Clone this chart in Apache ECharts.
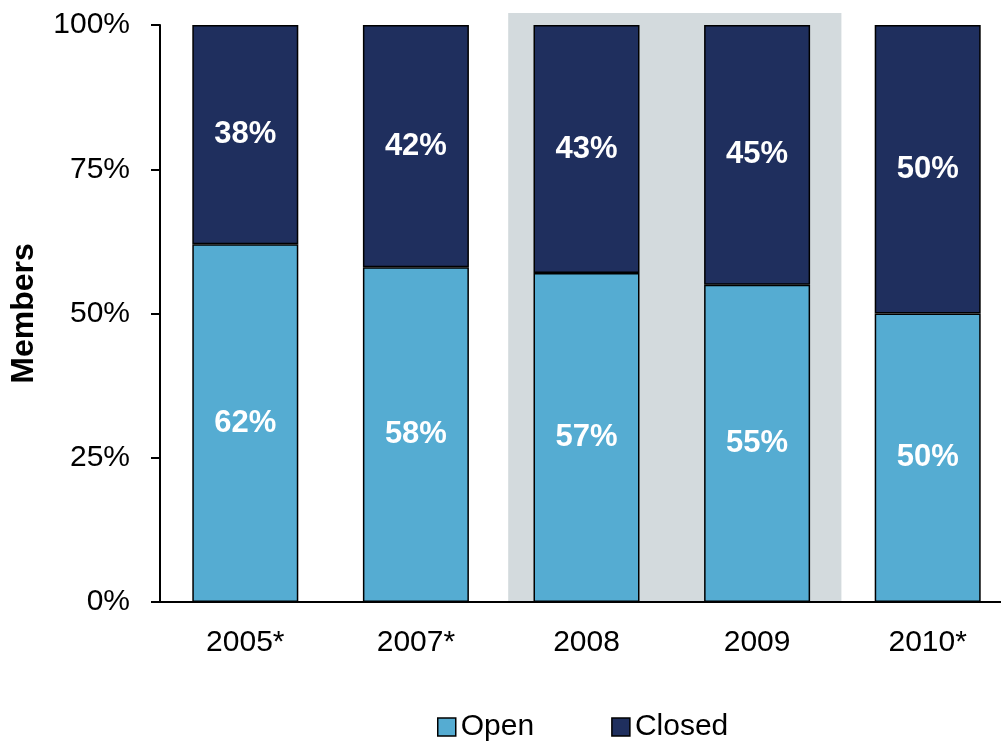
<!DOCTYPE html>
<html><head><meta charset="utf-8">
<script src="https://cdn.jsdelivr.net/npm/echarts@6/dist/echarts.min.js"></script>
<style>html,body{margin:0;padding:0;background:#fff;overflow:hidden}#c{width:1013px;height:744px}</style>
</head><body><div id="c"></div>
<script>
const categories = ['2005*', '2007*', '2008', '2009', '2010*'];
const openValues = [62, 58, 57, 55, 50];
const closedValues = [38, 42, 43, 45, 50];
const yTicks = [0, 25, 50, 75, 100];
const highlighted = ['2008', '2009'];

const FONT = '"Liberation Sans", Arial, sans-serif';
const chart = echarts.init(document.getElementById('c'), null, {renderer: 'canvas'});
const labelStyle = {show: true, position: 'inside', color: '#fff', fontWeight: 'bold', fontSize: 31, fontFamily: FONT, formatter: p => p.value + '%'};
chart.setOption({
  animation: false,
  grid: {left: 156, top: 25, right: 0, height: 577, containLabel: false},
  legend: {
    bottom: 2, left: 437, padding: 0, itemGap: 77, itemWidth: 18, itemHeight: 18,
    icon: 'rect',
    textStyle: {fontSize: 30, fontFamily: FONT, color: '#000', padding: [0, 0, 0, 0]},
    data: [
      {name: 'Open', itemStyle: {borderColor: '#000', borderWidth: 1.5}},
      {name: 'Closed', itemStyle: {borderColor: '#000', borderWidth: 1.5}}
    ]
  },
  xAxis: {
    type: 'category', data: categories,
    axisLine: {lineStyle: {color: '#000', width: 2}},
    axisTick: {show: false},
    axisLabel: {fontSize: 30, fontFamily: FONT, color: '#000', margin: 26}
  },
  yAxis: {
    type: 'value', min: 0, max: 100, interval: 25,
    name: 'Members', nameLocation: 'middle', nameGap: 120, nameRotate: 90,
    nameTextStyle: {fontSize: 32, fontWeight: 'bold', fontFamily: FONT, color: '#000'},
    splitLine: {show: false},
    axisLine: {show: true, lineStyle: {color: '#000', width: 2}},
    axisTick: {show: true, inside: false, length: 9, lineStyle: {color: '#000', width: 2}},
    axisLabel: {fontSize: 30, fontFamily: FONT, color: '#000', margin: 30, formatter: v => yTicks.includes(v) ? v + '%' : ''}
  },
  series: [
    {name: 'Open', type: 'bar', stack: 's', data: openValues, barWidth: 106, z: 3,
     itemStyle: {color: '#55ACD2', borderColor: '#000', borderWidth: 1.5}, label: labelStyle},
    {name: 'Closed', type: 'bar', stack: 's', data: closedValues, barWidth: 106, z: 3,
     itemStyle: {color: '#1F2F5E', borderColor: '#000', borderWidth: 1.5}, label: labelStyle}
  ]
});

// gray highlight band behind the 2008–2009 bars
const c0 = chart.convertToPixel({xAxisIndex: 0}, highlighted[0]);
const c1 = chart.convertToPixel({xAxisIndex: 0}, highlighted[1]);
const step = c1 - c0;
const yBottom = chart.convertToPixel({yAxisIndex: 0}, 0);
const yTop = chart.convertToPixel({yAxisIndex: 0}, 102.1);
chart.setOption({
  graphic: [{
    type: 'rect', z: -10, silent: true,
    shape: {x: c0 - step / 2 + 7, y: yTop, width: step * 2 - 8, height: yBottom - yTop},
    style: {fill: '#D3DADD'}
  }]
});
</script></body></html>
